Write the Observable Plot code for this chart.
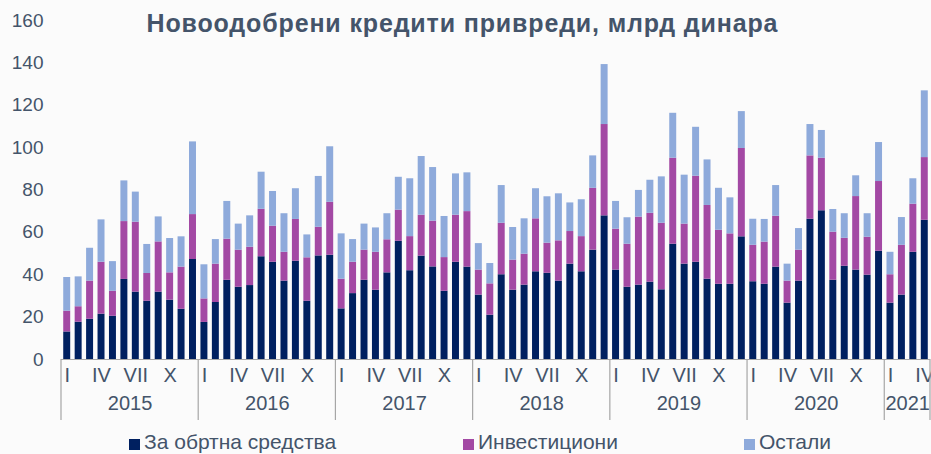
<!DOCTYPE html>
<html><head><meta charset="utf-8">
<script src="https://cdn.jsdelivr.net/npm/d3@7"></script>
<script src="https://cdn.jsdelivr.net/npm/@observablehq/plot@0.6"></script>
<style>
html,body{margin:0;padding:0;background:#fbfbfb;}
#chart{width:931px;height:454px;overflow:hidden;position:relative;}
</style></head><body><div id="chart"></div>
<script>
// ---- data ----
const title = "Новоодобрени кредити привреди, млрд динара";
const years = [2015, 2016, 2017, 2018, 2019, 2020, 2021];
const monthsInYear = [12, 12, 12, 12, 12, 12, 4];
const monthNames = ["I","II","III","IV","V","VI","VII","VIII","IX","X","XI","XII"];
const axisMonths = ["I","IV","VII","X"];
const yTicks = [0, 20, 40, 60, 80, 100, 120, 140, 160];
const seriesNames = ["За обртна средства", "Инвестициони", "Остали"];
const seriesColors = ["#002060", "#a349a4", "#8eaadb"];

const workingCapital = [
  13.0, 17.6, 19.0, 21.4, 20.4, 37.8, 31.8, 27.5, 31.8, 28.0, 23.7, 47.2,
  17.5, 26.9, 37.4, 34.1, 34.9, 48.5, 45.9, 37.0, 46.4, 27.5, 48.9, 49.2,
  23.9, 31.1, 37.4, 32.7, 40.9, 55.8, 41.9, 48.8, 43.7, 32.2, 45.9, 43.6,
  30.4, 20.9, 40.0, 32.7, 35.1, 41.4, 40.7, 37.0, 45.0, 41.4, 51.6, 67.8,
  42.2, 34.1, 35.1, 36.5, 32.9, 54.4, 45.0, 45.9, 37.9, 35.5, 35.5, 57.9,
  36.7, 35.5, 43.6, 26.6, 37.0, 66.2, 70.2, 37.4, 44.0, 42.2, 39.8, 51.1,
  26.6, 30.4, 50.6, 65.7
];
const investment = [
  9.8, 7.3, 18.0, 24.5, 11.8, 27.3, 33.0, 13.1, 23.7, 12.9, 19.9, 21.2,
  11.1, 18.1, 19.4, 17.5, 18.1, 22.4, 17.0, 13.6, 19.7, 20.5, 13.5, 25.0,
  14.0, 14.8, 14.2, 17.9, 15.6, 14.7, 16.1, 19.3, 21.6, 15.9, 22.2, 26.2,
  11.8, 14.8, 24.3, 14.2, 14.6, 25.0, 14.2, 19.0, 15.4, 16.6, 29.2, 43.1,
  19.3, 20.3, 32.1, 32.5, 31.4, 40.6, 18.9, 40.6, 34.8, 25.5, 23.8, 41.7,
  17.2, 19.9, 24.0, 10.4, 14.6, 29.9, 24.8, 22.7, 13.2, 34.7, 17.9, 32.9,
  13.4, 23.5, 22.7, 29.6
];
const other = [
  15.9, 14.1, 15.5, 20.0, 14.0, 19.2, 14.2, 13.7, 11.8, 16.2, 14.3, 34.3,
  16.1, 11.6, 17.8, 12.3, 14.8, 17.5, 16.4, 18.2, 14.5, 10.8, 24.0, 26.2,
  21.4, 10.7, 12.3, 11.5, 12.3, 15.5, 27.3, 27.7, 25.3, 19.4, 19.5, 18.3,
  12.5, 9.6, 17.8, 15.4, 16.7, 14.2, 21.9, 22.2, 13.5, 17.4, 15.3, 28.3,
  13.1, 12.5, 12.6, 15.6, 21.9, 21.2, 23.1, 23.1, 21.5, 19.8, 17.0, 17.4,
  12.3, 10.7, 14.5, 8.0, 10.2, 14.8, 13.1, 10.7, 11.6, 9.8, 11.1, 18.4,
  10.6, 13.1, 12.0, 31.5
];

// ---- build tables ----
const periods = [];
years.forEach((y, yi) => {
  for (let m = 0; m < monthsInYear[yi]; m++) {
    periods.push({year: y, month: monthNames[m], key: `${y}-${String(m + 1).padStart(2, "0")}`});
  }
});
const monthOf = Object.fromEntries(periods.map(p => [p.key, p.month]));
const seriesValues = [workingCapital, investment, other];
const rows = periods.flatMap((p, i) => seriesNames.map((s, si) => ({key: p.key, series: s, value: seriesValues[si][i]})));
const yearLabels = years.map((y, yi) => {
  const ps = periods.filter(p => p.year === y);
  return {year: String(y), key: ps[Math.floor(ps.length / 2)].key};
});

// ---- layout / style ----
const W = 931, H = 454, mL = 61, mR = 1, mT = 20, mB = 95;
const textColor = "#44546a";
const font = "'Liberation Sans', Arial, sans-serif";
const step = (W - mL - mR) / periods.length;

const plot = Plot.plot({
  width: W, height: H,
  marginTop: mT, marginBottom: mB, marginLeft: mL, marginRight: mR,
  style: {background: "transparent", fontFamily: font, color: textColor, overflow: "visible"},
  x: {type: "band", domain: periods.map(p => p.key), paddingInner: 0.39, paddingOuter: 0.195, round: false, label: null},
  y: {domain: [0, 160], label: null},
  color: {domain: seriesNames, range: seriesColors},
  marks: [
    Plot.axisY({ticks: yTicks, tickSize: 0, tickPadding: 18, fontSize: 19, fill: textColor, label: null}),
    Plot.axisX({
      ticks: periods.filter(p => axisMonths.includes(p.month)).map(p => p.key),
      tickFormat: k => monthOf[k], tickSize: 0, tickPadding: 8, fontSize: 20, fill: textColor, label: null
    }),
    Plot.barY(rows, {x: "key", y: "value", fill: "series"}),
    Plot.ruleY([0], {stroke: "#a6a6a6", strokeWidth: 1.2}),
    Plot.text(yearLabels, {x: "key", text: "year", frameAnchor: "bottom", dx: -step / 2, dy: 50, fontSize: 20, fill: textColor})
  ]
});

// year separators using the plot's x scale
const xs = plot.scale("x");
const bw = xs.bandwidth, st = xs.step;
const gap = (st - bw) / 2;
const svg = d3.select(plot);
const sep = svg.append("g").attr("stroke", "#a6a6a6").attr("stroke-width", 1.2);
const bounds = years.map(y => xs.apply(periods.find(p => p.year === y).key) - gap);
bounds.push(xs.apply(periods[periods.length - 1].key) + bw + gap);
bounds.forEach(bx => sep.append("line").attr("x1", bx).attr("x2", bx).attr("y1", H - mB).attr("y2", H - mB + 61));

// title
svg.append("text").attr("x", 462).attr("y", 32).attr("text-anchor", "middle")
  .attr("font-size", 25).attr("font-weight", "bold").attr("fill", textColor).attr("font-family", font)
  .attr("textLength", 631).attr("lengthAdjust", "spacing").text(title);

// legend
const legendX = [129, 463, 744];
const lg = svg.append("g").attr("font-family", font).attr("font-size", 21).attr("fill", textColor).attr("text-anchor", "start");
seriesNames.forEach((s, i) => {
  lg.append("rect").attr("x", legendX[i]).attr("y", 439).attr("width", 11).attr("height", 11).attr("fill", seriesColors[i]);
  lg.append("text").attr("x", legendX[i] + 15).attr("y", 449).text(s);
});

document.getElementById("chart").appendChild(plot);
</script></body></html>
